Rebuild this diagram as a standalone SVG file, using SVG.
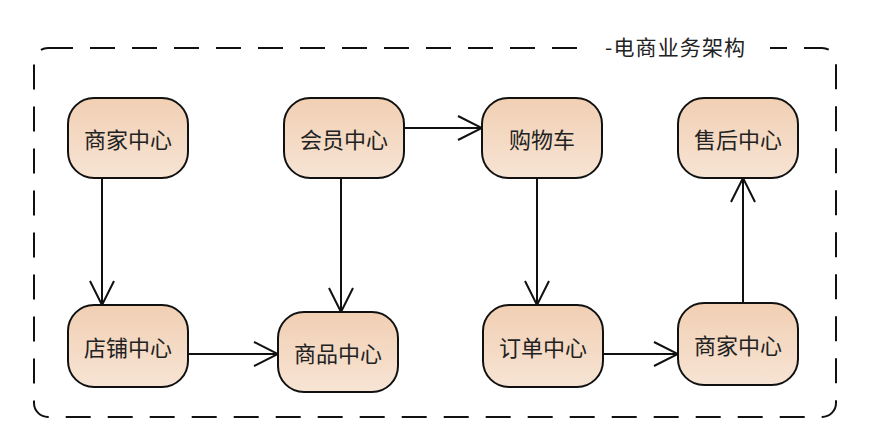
<svg xmlns="http://www.w3.org/2000/svg" width="870" height="446" viewBox="0 0 870 446">
<defs>
<linearGradient id="g" x1="0" y1="0" x2="0" y2="1">
<stop offset="0" stop-color="#f1cfb3"/>
<stop offset="1" stop-color="#f7e4d4"/>
</linearGradient>
<marker id="arr" viewBox="0 0 26 26" refX="25" refY="13" markerWidth="26" markerHeight="26" markerUnits="userSpaceOnUse" orient="auto">
<path d="M1,1 L25,13 L1,25" fill="none" stroke="#111" stroke-width="2"/>
</marker>
<style>
.n rect{fill:url(#g);stroke:#111;stroke-width:2}
.n text{font-family:"Noto Sans CJK SC","Noto Sans",sans-serif;font-size:22px;fill:#222;text-anchor:middle;dominant-baseline:central}
.c line{stroke:#111;stroke-width:2;marker-end:url(#arr)}
</style>
</defs>
<rect width="870" height="446" fill="#fff"/>
<g id="frame">
<rect x="34" y="48" width="802" height="369" rx="14" fill="none" stroke="#111" stroke-width="2" stroke-dasharray="25 17"/>
<rect x="592" y="36" width="178" height="24" fill="#fff"/>
<text x="605" y="46" font-family="Noto Sans CJK SC,Noto Sans,sans-serif" font-size="21" fill="#222" dominant-baseline="central" textLength="140" lengthAdjust="spacing">-电商业务架构</text>
</g>
<g class="c" id="connectors">
<line x1="102" y1="178" x2="102" y2="305"/>
<line x1="341" y1="178" x2="341" y2="312"/>
<line x1="404" y1="128" x2="482" y2="128"/>
<line x1="537" y1="178" x2="537" y2="305"/>
<line x1="188" y1="354" x2="278" y2="354"/>
<line x1="603" y1="354" x2="678" y2="354"/>
<line x1="743" y1="303" x2="743" y2="178"/>
</g>
<g class="n" id="merchant1"><rect x="68" y="98" width="120" height="80" rx="26"/><text x="128" y="138">商家中心</text></g>
<g class="n" id="member"><rect x="284" y="98" width="120" height="80" rx="26"/><text x="344" y="138">会员中心</text></g>
<g class="n" id="cart"><rect x="482" y="98" width="120" height="80" rx="26"/><text x="542" y="138">购物车</text></g>
<g class="n" id="aftersale"><rect x="678" y="98" width="120" height="80" rx="26"/><text x="738" y="138">售后中心</text></g>
<g class="n" id="shop"><rect x="68" y="305" width="120" height="82" rx="26"/><text x="128" y="346">店铺中心</text></g>
<g class="n" id="product"><rect x="278" y="312" width="120" height="80" rx="26"/><text x="338" y="352">商品中心</text></g>
<g class="n" id="order"><rect x="483" y="305" width="120" height="82" rx="26"/><text x="543" y="346">订单中心</text></g>
<g class="n" id="merchant2"><rect x="678" y="303" width="120" height="82" rx="26"/><text x="738" y="344">商家中心</text></g>
</svg>
